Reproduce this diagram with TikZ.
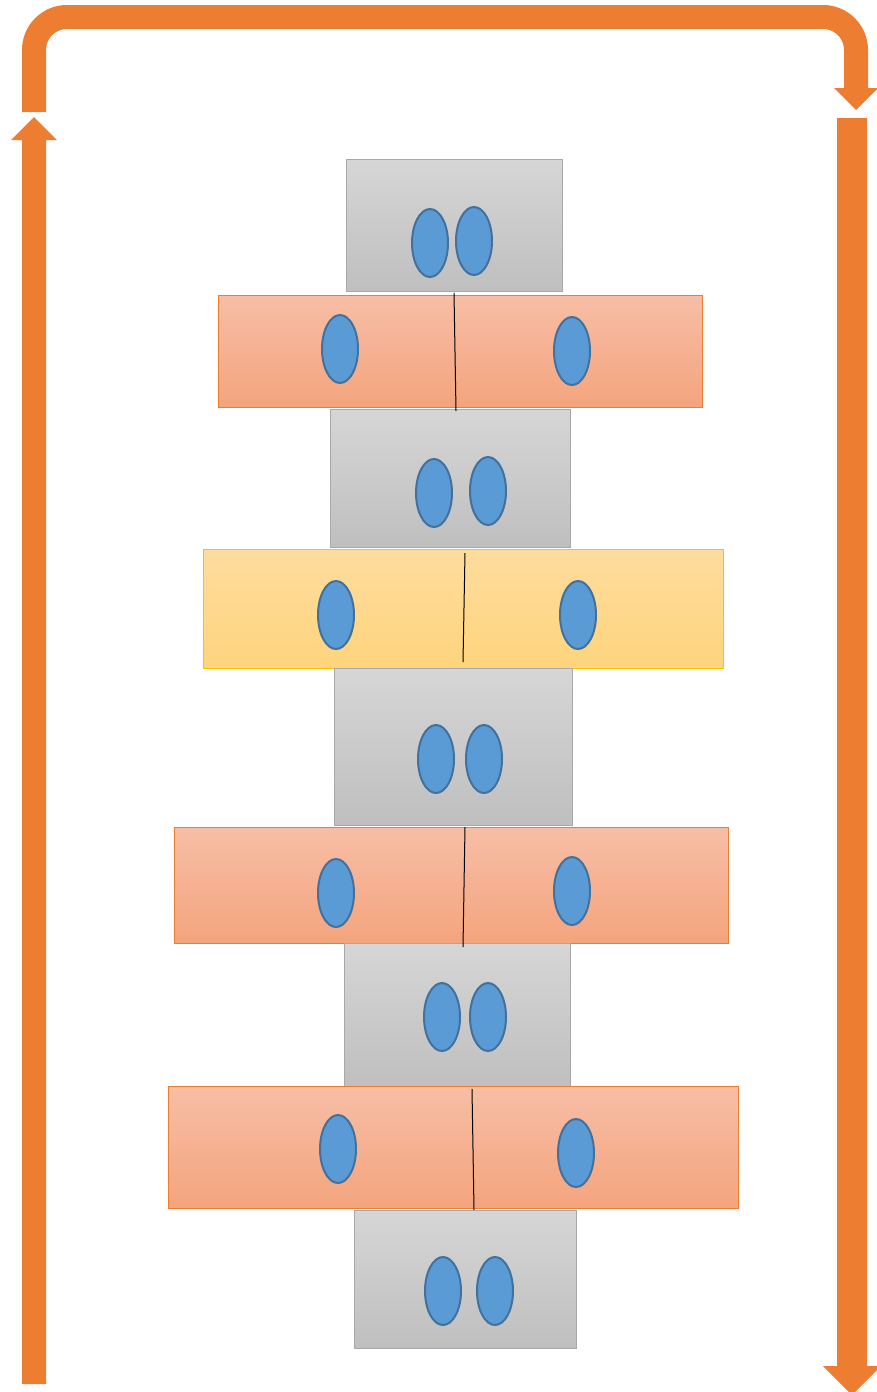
\documentclass[tikz,border=0pt]{standalone}
\usetikzlibrary{shapes.geometric}
\definecolor{orng}{HTML}{ED7D31}
\definecolor{grayT}{HTML}{D6D6D6}
\definecolor{grayB}{HTML}{BFBFBF}
\definecolor{grayE}{HTML}{A8A8A8}
\definecolor{salT}{HTML}{F7BEA6}
\definecolor{salB}{HTML}{F4A47D}
\definecolor{yelT}{HTML}{FEDC9E}
\definecolor{yelB}{HTML}{FED47C}
\definecolor{yelE}{HTML}{FFC000}
\definecolor{cellF}{HTML}{5B9BD5}
\definecolor{cellE}{HTML}{41719C}
\begin{document}
\begin{tikzpicture}[x=1pt,y=-1pt,
  graybox/.style={rectangle,draw=grayE,line width=1pt,top color=grayT,bottom color=grayB,inner sep=0pt,outer sep=0pt},
  salbox/.style={rectangle,draw=orng,line width=1pt,top color=salT,bottom color=salB,inner sep=0pt,outer sep=0pt},
  yelbox/.style={rectangle,draw=yelE,line width=1pt,top color=yelT,bottom color=yelB,inner sep=0pt,outer sep=0pt},
  cell/.style={ellipse,draw=cellE,fill=cellF,line width=2pt,minimum width=36pt,minimum height=68pt,inner sep=0pt},
  divider/.style={draw=black,line width=1pt},
  bigarrow/.style={fill=orng,draw=none}]
\useasboundingbox (0,0) rectangle (877,1392);
% arrows
\draw[orng,line width=24pt,rounded corners=33pt] (34,112) -- (34,17) -- (856,17) -- (856,88.5);
\fill[bigarrow] (834,88) -- (878,88) -- (856,110) -- cycle;
\fill[bigarrow] (22,1384) -- (22,140) -- (11,140) -- (34,117) -- (57,140) -- (46,140) -- (46,1384) -- cycle;
\fill[bigarrow] (837,118) -- (867,118) -- (867,1366) -- (881,1366) -- (852,1395) -- (823,1366) -- (837,1366) -- cycle;
% boxes
\node[graybox,minimum width=216pt,minimum height=132pt] (g1) at (454,225) {};
\node[salbox,minimum width=484pt,minimum height=112pt] (s1) at (460,351) {};
\node[graybox,minimum width=240pt,minimum height=138pt] (g2) at (450,478) {};
\node[yelbox,minimum width=520pt,minimum height=119pt] (y1) at (463,608.5) {};
\node[graybox,minimum width=238pt,minimum height=157pt] (g3) at (453,746.5) {};
\node[salbox,minimum width=554pt,minimum height=116pt] (s2) at (451,885) {};
\node[graybox,minimum width=226pt,minimum height=144pt] (g4) at (457,1015) {};
\node[salbox,minimum width=570pt,minimum height=122pt] (s3) at (453,1147) {};
\node[graybox,minimum width=222pt,minimum height=138pt] (g5) at (465,1279) {};
% dividers
\coordinate (d1a) at (454,293); \coordinate (d1b) at (456,411);
\coordinate (d2a) at (465,553); \coordinate (d2b) at (463,662);
\coordinate (d3a) at (465,827); \coordinate (d3b) at (463,947);
\coordinate (d4a) at (472,1089); \coordinate (d4b) at (474,1210);
\draw[divider] (d1a) -- (d1b);
\draw[divider] (d2a) -- (d2b);
\draw[divider] (d3a) -- (d3b);
\draw[divider] (d4a) -- (d4b);
% cells
\node[cell] (c1a) at (430,243) {};
\node[cell] (c1b) at (474,241) {};
\node[cell] (c2a) at (340,349) {};
\node[cell] (c2b) at (572,351) {};
\node[cell] (c3a) at (434,493) {};
\node[cell] (c3b) at (488,491) {};
\node[cell] (c4a) at (336,615) {};
\node[cell] (c4b) at (578,615) {};
\node[cell] (c5a) at (436,759) {};
\node[cell] (c5b) at (484,759) {};
\node[cell] (c6a) at (336,893) {};
\node[cell] (c6b) at (572,891) {};
\node[cell] (c7a) at (442,1017) {};
\node[cell] (c7b) at (488,1017) {};
\node[cell] (c8a) at (338,1149) {};
\node[cell] (c8b) at (576,1153) {};
\node[cell] (c9a) at (443,1291) {};
\node[cell] (c9b) at (495,1291) {};
\end{tikzpicture}
\end{document}
